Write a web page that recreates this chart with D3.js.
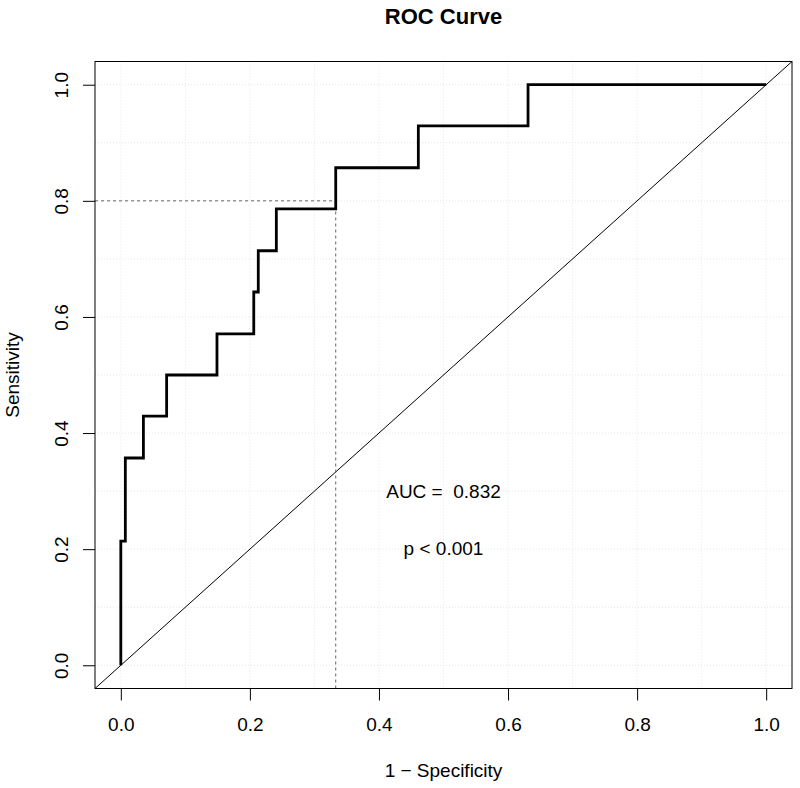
<!DOCTYPE html>
<html>
<head>
<meta charset="utf-8">
<script src="https://cdn.jsdelivr.net/npm/d3@7"></script>
<style>
  body { margin: 0; background: #fff; }
  text { font-family: "Liberation Sans", Arial, sans-serif; fill: #000; }
</style>
</head>
<body>
<svg id="chart"></svg>
<script>
// ROC curve points (step after)
var fpr = [0, 0, 0.007, 0.035, 0.071, 0.149, 0.206, 0.213, 0.241, 0.333, 0.461, 0.631, 1];
var tpr = [0, 0.214, 0.357, 0.429, 0.5, 0.571, 0.643, 0.714, 0.786, 0.857, 0.929, 1, 1];

var tickValues = [0, 0.2, 0.4, 0.6, 0.8, 1.0];
var gridValues = [0, 0.1, 0.2, 0.3, 0.4, 0.5, 0.6, 0.7, 0.8, 0.9, 1.0];

// best cut-off marked with dashed lines
var cutFpr = 0.333;
var cutTpr = 0.8;

var aucText = "AUC =  0.832";
var pText = "p < 0.001";

var svgWidth = 800, svgHeight = 788;
var plotLeft = 95, plotRight = 792, plotTop = 61.5, plotBottom = 688.5;
var fontSize = "19px";

var svg = d3.select("#chart").attr("width", svgWidth).attr("height", svgHeight);

var x = d3.scaleLinear().domain([-0.04, 1.04]).range([plotLeft, plotRight]);
var y = d3.scaleLinear().domain([-0.04, 1.04]).range([plotBottom, plotTop]);

// grid
var grid = svg.append("g");
grid.selectAll(".gx").data(gridValues).enter().append("line")
    .attr("x1", d => x(d)).attr("x2", d => x(d))
    .attr("y1", plotTop).attr("y2", plotBottom)
    .attr("stroke", "#e6e6e6").attr("stroke-dasharray", "1,2");
grid.selectAll(".gy").data(gridValues).enter().append("line")
    .attr("y1", d => y(d)).attr("y2", d => y(d))
    .attr("x1", plotLeft).attr("x2", plotRight)
    .attr("stroke", "#e6e6e6").attr("stroke-dasharray", "1,2");

// diagonal reference
svg.append("line")
    .attr("x1", x(-0.04)).attr("y1", y(-0.04))
    .attr("x2", x(1.04)).attr("y2", y(1.04))
    .attr("stroke", "#000").attr("stroke-width", 1);

// cut-off dashed lines
svg.append("line")
    .attr("x1", plotLeft).attr("x2", x(cutFpr))
    .attr("y1", y(cutTpr)).attr("y2", y(cutTpr))
    .attr("stroke", "#666").attr("stroke-dasharray", "3,3");
svg.append("line")
    .attr("x1", x(cutFpr)).attr("x2", x(cutFpr))
    .attr("y1", plotBottom).attr("y2", y(cutTpr))
    .attr("stroke", "#666").attr("stroke-dasharray", "3,3");

// ROC curve
var pts = fpr.map((f, i) => [f, tpr[i]]);
var line = d3.line().x(d => x(d[0])).y(d => y(d[1])).curve(d3.curveStepAfter);
svg.append("path")
    .attr("d", line(pts))
    .attr("fill", "none").attr("stroke", "#000").attr("stroke-width", 2.8);

// box
svg.append("rect")
    .attr("x", plotLeft).attr("y", plotTop)
    .attr("width", plotRight - plotLeft).attr("height", plotBottom - plotTop)
    .attr("fill", "none").attr("stroke", "#000").attr("stroke-width", 1);

// axes
var xAxis = svg.append("g")
    .attr("transform", "translate(0," + plotBottom + ")")
    .call(d3.axisBottom(x).tickValues(tickValues).tickSize(12).tickFormat(d3.format(".1f")));
xAxis.select(".domain").remove();
xAxis.selectAll("text").attr("y", 42).attr("dy", 0)
    .style("font-size", fontSize).style("font-family", "Liberation Sans, Arial, sans-serif");

var yAxis = svg.append("g")
    .attr("transform", "translate(" + plotLeft + ",0)")
    .call(d3.axisLeft(y).tickValues(tickValues).tickSize(12).tickFormat(d3.format(".1f")));
yAxis.select(".domain").remove();
yAxis.selectAll("text")
    .attr("x", 0).attr("y", 0).attr("dy", 0)
    .attr("text-anchor", "middle")
    .attr("transform", "translate(-27,0) rotate(-90)")
    .style("font-size", fontSize).style("font-family", "Liberation Sans, Arial, sans-serif");

// labels
svg.append("text")
    .attr("x", (plotLeft + plotRight) / 2).attr("y", 24)
    .attr("text-anchor", "middle")
    .style("font-size", "22px").style("font-weight", "bold")
    .text("ROC Curve");

svg.append("text")
    .attr("x", (plotLeft + plotRight) / 2).attr("y", 777)
    .attr("text-anchor", "middle")
    .style("font-size", fontSize)
    .text("1 \u2212 Specificity");

svg.append("text")
    .attr("transform", "translate(19," + (plotTop + plotBottom) / 2 + ") rotate(-90)")
    .attr("text-anchor", "middle")
    .style("font-size", fontSize)
    .text("Sensitivity");

svg.append("text")
    .attr("x", x(0.5)).attr("y", 498)
    .attr("text-anchor", "middle")
    .style("font-size", fontSize).style("white-space", "pre")
    .text(aucText);

svg.append("text")
    .attr("x", x(0.5)).attr("y", 555)
    .attr("text-anchor", "middle")
    .style("font-size", fontSize)
    .text(pText);
</script>
</body>
</html>
